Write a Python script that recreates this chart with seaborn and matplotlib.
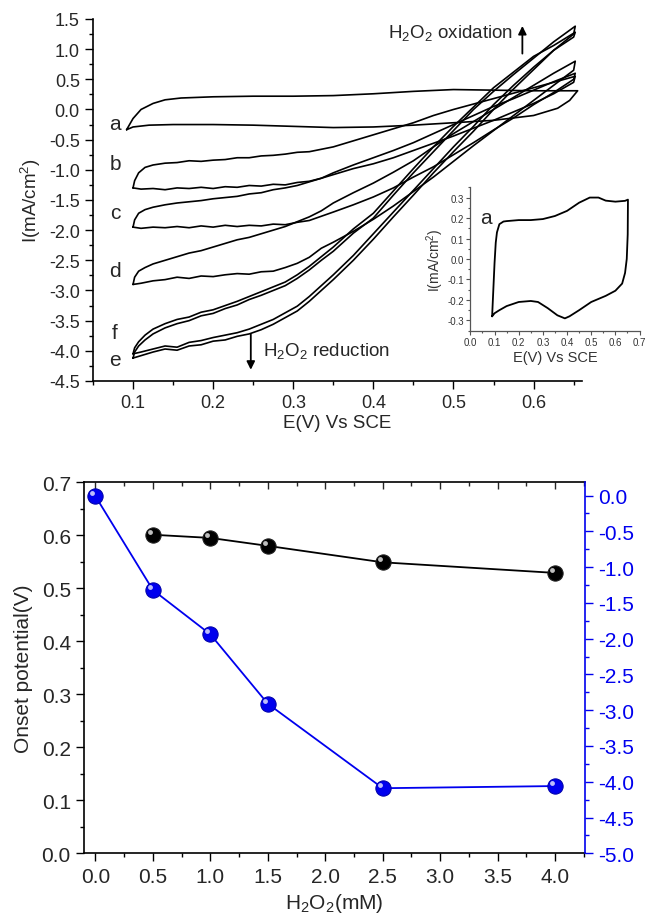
import matplotlib
matplotlib.use('Agg')
import matplotlib.pyplot as plt
import seaborn as sns
from matplotlib.ticker import MultipleLocator, AutoMinorLocator
from matplotlib.transforms import offset_copy

# ---- data: cyclic voltammograms (E in V vs SCE, I in mA/cm2) ----
E_fwd = [0.100, 0.110, 0.125, 0.140, 0.155, 0.170, 0.185, 0.200, 0.215, 0.230,
         0.245, 0.260, 0.275, 0.290, 0.305, 0.320, 0.335, 0.350, 0.375, 0.400,
         0.425, 0.450, 0.475, 0.500, 0.525, 0.550, 0.575, 0.600, 0.625, 0.650]
E_back = [0.652, 0.625, 0.600, 0.575, 0.550, 0.525, 0.500, 0.475, 0.450, 0.425,
          0.400, 0.375, 0.350, 0.335, 0.320, 0.305, 0.290, 0.275, 0.260, 0.245,
          0.230, 0.215, 0.200, 0.185, 0.170, 0.155, 0.140, 0.125, 0.115, 0.107,
          0.102, 0.100]

b_fwd = [-1.30, -1.32, -1.31, -1.33, -1.30, -1.31, -1.29, -1.31, -1.28, -1.29,
         -1.26, -1.27, -1.24, -1.25, -1.21, -1.19, -1.14, -1.08, -0.98, -0.90,
         -0.80, -0.68, -0.56, -0.44, -0.31, -0.18, -0.04, 0.10, 0.26, 0.45]
b_back = [0.55, 0.45, 0.36, 0.27, 0.18, 0.09, 0.00, -0.10, -0.22, -0.32,
          -0.42, -0.52, -0.62, -0.66, -0.70, -0.71, -0.74, -0.76, -0.77, -0.80,
          -0.80, -0.83, -0.84, -0.86, -0.85, -0.88, -0.89, -0.92, -0.96, -1.05,
          -1.18, -1.30]
c_fwd = [-1.95, -1.97, -1.95, -1.96, -1.94, -1.96, -1.93, -1.95, -1.92, -1.94,
         -1.92, -1.93, -1.90, -1.91, -1.87, -1.84, -1.77, -1.70, -1.58, -1.45,
         -1.30, -1.12, -0.95, -0.75, -0.55, -0.34, -0.14, 0.08, 0.28, 0.50]
c_back = [0.60, 0.46, 0.32, 0.18, 0.05, -0.10, -0.25, -0.40, -0.55, -0.68,
          -0.80, -0.92, -1.05, -1.14, -1.20, -1.26, -1.30, -1.33, -1.38, -1.40,
          -1.44, -1.46, -1.48, -1.51, -1.53, -1.55, -1.58, -1.62, -1.66, -1.72,
          -1.83, -1.95]
d_fwd = [-2.90, -2.88, -2.84, -2.82, -2.78, -2.80, -2.76, -2.77, -2.74, -2.72,
         -2.73, -2.69, -2.68, -2.62, -2.55, -2.45, -2.30, -2.20, -2.02, -1.82,
         -1.60, -1.36, -1.12, -0.86, -0.60, -0.35, -0.10, 0.15, 0.40, 0.65]
d_back = [0.80, 0.60, 0.40, 0.20, 0.00, -0.20, -0.40, -0.62, -0.85, -1.04,
          -1.22, -1.38, -1.55, -1.68, -1.78, -1.86, -1.94, -2.00, -2.06, -2.12,
          -2.16, -2.22, -2.28, -2.34, -2.38, -2.44, -2.50, -2.56, -2.62, -2.68,
          -2.78, -2.90]
e_fwd = [-4.12, -4.08, -4.02, -3.97, -3.99, -3.92, -3.90, -3.84, -3.82, -3.76,
         -3.72, -3.65, -3.56, -3.45, -3.34, -3.18, -3.00, -2.82, -2.50, -2.15,
         -1.78, -1.42, -1.05, -0.70, -0.36, 0.00, 0.34, 0.66, 0.98, 1.25]
e_back = [1.38, 1.12, 0.85, 0.58, 0.30, 0.00, -0.35, -0.70, -1.05, -1.42,
          -1.80, -2.05, -2.35, -2.50, -2.66, -2.80, -2.92, -3.00, -3.08, -3.15,
          -3.24, -3.30, -3.38, -3.42, -3.50, -3.55, -3.62, -3.72, -3.82, -3.92,
          -4.02, -4.12]
f_fwd = [-4.05, -4.02, -3.97, -3.92, -3.94, -3.86, -3.83, -3.78, -3.74, -3.70,
         -3.64, -3.56, -3.48, -3.37, -3.26, -3.10, -2.92, -2.74, -2.42, -2.06,
         -1.70, -1.34, -0.98, -0.62, -0.28, 0.08, 0.40, 0.70, 0.98, 1.20]
f_back = [1.28, 1.06, 0.88, 0.62, 0.36, 0.04, -0.28, -0.62, -0.98, -1.35,
          -1.72, -1.98, -2.28, -2.44, -2.60, -2.74, -2.86, -2.94, -3.02, -3.10,
          -3.18, -3.25, -3.32, -3.36, -3.44, -3.48, -3.55, -3.64, -3.74, -3.85,
          -3.95, -4.05]

a_E = [0.092, 0.100, 0.110, 0.125, 0.140, 0.160, 0.200, 0.250, 0.300, 0.350,
       0.400, 0.450, 0.500, 0.550, 0.600, 0.655, 0.645, 0.630, 0.600, 0.550,
       0.500, 0.450, 0.400, 0.350, 0.300, 0.250, 0.200, 0.150, 0.120, 0.100, 0.092]
a_I = [-0.335, -0.15, 0.00, 0.10, 0.16, 0.19, 0.21, 0.22, 0.22, 0.23,
       0.26, 0.30, 0.33, 0.32, 0.31, 0.31, 0.15, 0.02, -0.10, -0.18,
       -0.22, -0.26, -0.29, -0.30, -0.28, -0.26, -0.25, -0.25, -0.26, -0.29, -0.335]

# inset: curve a alone
inset_E = [0.090, 0.095, 0.100, 0.105, 0.110, 0.120, 0.137, 0.150, 0.200, 0.250,
           0.300, 0.350, 0.400, 0.450, 0.494, 0.530, 0.560, 0.600, 0.640, 0.652,
           0.651, 0.647, 0.640, 0.628, 0.600, 0.560, 0.500, 0.450, 0.410, 0.391,
           0.360, 0.320, 0.280, 0.250, 0.200, 0.150, 0.120, 0.100, 0.090]
inset_I = [-0.28, -0.15, -0.02, 0.08, 0.13, 0.17, 0.183, 0.185, 0.19, 0.19,
           0.195, 0.21, 0.235, 0.275, 0.30, 0.30, 0.285, 0.28, 0.284, 0.29,
           0.12, 0.0, -0.068, -0.12, -0.155, -0.18, -0.21, -0.25, -0.28, -0.29,
           -0.275, -0.24, -0.21, -0.205, -0.21, -0.23, -0.25, -0.265, -0.28]

curve_names = ['b', 'c', 'd', 'e', 'f']
curve_fwd = [b_fwd, c_fwd, d_fwd, e_fwd, f_fwd]
curve_back = [b_back, c_back, d_back, e_back, f_back]
label_pos = {'a': -0.24, 'b': -0.90, 'c': -1.70, 'd': -2.67, 'f': -3.69, 'e': -4.14}

# ---- data: bottom panel ----
conc_onset = [0.5, 1.0, 1.5, 2.5, 4.0]
onset_V = [0.601, 0.595, 0.580, 0.549, 0.529]
conc_curr = [0.0, 0.5, 1.0, 1.5, 2.5, 4.0]
red_current = [-0.01, -1.32, -1.94, -2.91, -4.09, -4.06]

sns.set_style("ticks")
plt.rcParams['font.family'] = ['Liberation Sans', 'DejaVu Sans']
plt.rcParams['axes.unicode_minus'] = False
plt.rcParams['mathtext.default'] = 'regular'

fig = plt.figure(figsize=(6.47, 9.2), dpi=100)

# ---------- top: CV curves ----------
ax = fig.add_axes([0.1437, 0.5848, 0.7553, 0.3935])
sns.lineplot(x=a_E, y=a_I, sort=False, estimator=None, color='black', lw=1.2, ax=ax)
for name, fwd, back in zip(curve_names, curve_fwd, curve_back):
    sns.lineplot(x=E_fwd + E_back, y=fwd + back, sort=False, estimator=None,
                 color='black', lw=1.2, ax=ax)
for name, yv in label_pos.items():
    ax.text(0.0775, yv, name, fontsize=15, ha='center', va='center')

ax.set_xlim(0.05, 0.66)
ax.set_ylim(-4.5, 1.5)
ax.xaxis.set_major_locator(MultipleLocator(0.1))
ax.xaxis.set_minor_locator(AutoMinorLocator(2))
ax.yaxis.set_major_locator(MultipleLocator(0.5))
ax.yaxis.set_minor_locator(AutoMinorLocator(2))
ax.tick_params(which='both', direction='out', width=1.0, labelsize=13, color='black')
ax.tick_params(which='major', length=6)
ax.tick_params(which='minor', length=3)
sns.despine(ax=ax)
for s in ['left', 'bottom']:
    ax.spines[s].set_linewidth(1.2)
    ax.spines[s].set_color('black')
ax.set_xlabel('E(V) Vs SCE', fontsize=13.5, labelpad=2)
ax.set_ylabel('I(mA/cm$^2$)', fontsize=13.5, labelpad=4)

ax.annotate('', xy=(0.586, 1.43), xytext=(0.586, 0.88),
            arrowprops=dict(arrowstyle='-|>', color='black', lw=1.3, mutation_scale=12))
ax.text(0.575, 1.28, 'H$_2$O$_2$ oxidation', fontsize=13.5, ha='right', va='center')
ax.annotate('', xy=(0.247, -4.36), xytext=(0.247, -3.68),
            arrowprops=dict(arrowstyle='-|>', color='black', lw=1.3, mutation_scale=12))
ax.text(0.262, -3.99, 'H$_2$O$_2$ reduction', fontsize=13.5, ha='left', va='center')

# ---------- inset ----------
axi = fig.add_axes([0.727, 0.6395, 0.2615, 0.1558])
sns.lineplot(x=inset_E, y=inset_I, sort=False, estimator=None, color='black', lw=1.3, ax=axi)
axi.set_xlim(0.0, 0.7)
axi.set_ylim(-0.35, 0.35)
axi.xaxis.set_major_locator(MultipleLocator(0.1))
axi.xaxis.set_minor_locator(AutoMinorLocator(2))
axi.yaxis.set_major_locator(MultipleLocator(0.1))
axi.yaxis.set_minor_locator(AutoMinorLocator(2))
axi.tick_params(which='both', direction='out', width=0.8, labelsize=7,
                labelcolor='#333333', color='#555555', pad=1.5)
axi.tick_params(which='major', length=3)
axi.tick_params(which='minor', length=1.5)
sns.despine(ax=axi)
for s in ['left', 'bottom']:
    axi.spines[s].set_linewidth(0.9)
    axi.spines[s].set_color('#555555')
axi.patch.set_alpha(0)
axi.set_xlabel('E(V) Vs SCE', fontsize=10.5, color='#333333', labelpad=2)
axi.set_ylabel('I(mA/cm$^2$)', fontsize=10, color='#333333', labelpad=1)
axi.text(0.065, 0.205, 'a', fontsize=15, ha='center', va='center')

# ---------- bottom: onset potential and current ----------
ax2 = fig.add_axes([0.1298, 0.0714, 0.7744, 0.4033])
ax2r = ax2.twinx()

sns.lineplot(x=conc_onset, y=onset_V, color='black', lw=1.3, marker='o',
             markersize=11, markeredgecolor='#222222', ax=ax2)
sns.lineplot(x=conc_curr, y=red_current, color='#0000ee', lw=1.3, marker='o',
             markersize=11, markeredgecolor='#0000aa', ax=ax2r)
hl2 = offset_copy(ax2.transData, fig=fig, x=-2.2, y=2.2, units='points')
ax2.plot(conc_onset, onset_V, 'o', ms=3.5, color='white', alpha=0.75,
         mec='none', transform=hl2, zorder=5)
hl2r = offset_copy(ax2r.transData, fig=fig, x=-2.2, y=2.2, units='points')
ax2r.plot(conc_curr, red_current, 'o', ms=3.5, color='white', alpha=0.75,
          mec='none', transform=hl2r, zorder=5)

ax2.set_xlim(-0.1, 4.26)
ax2.set_ylim(0.0, 0.7)
ax2r.set_ylim(-5.0, 0.186)
ax2.xaxis.set_major_locator(MultipleLocator(0.5))
ax2.xaxis.set_minor_locator(AutoMinorLocator(2))
ax2.yaxis.set_major_locator(MultipleLocator(0.1))
ax2.yaxis.set_minor_locator(AutoMinorLocator(2))
ax2r.yaxis.set_major_locator(MultipleLocator(0.5))
ax2r.yaxis.set_minor_locator(AutoMinorLocator(2))

ax2.tick_params(which='both', direction='out', width=1.0, labelsize=15, color='black')
ax2.tick_params(which='major', length=6)
ax2.tick_params(which='minor', length=3)
ax2r.tick_params(which='both', direction='out', width=1.0, labelsize=15,
                 color='#0000ee', labelcolor='#0000ee')
ax2r.tick_params(which='major', length=6)
ax2r.tick_params(which='minor', length=3)

top = ax2.secondary_xaxis('top')
top.xaxis.set_major_locator(MultipleLocator(0.5))
top.xaxis.set_minor_locator(AutoMinorLocator(2))
top.tick_params(which='both', direction='in', labeltop=False, width=1.0)
top.tick_params(which='major', length=5)
top.tick_params(which='minor', length=3)
top.spines['top'].set_visible(False)

for s in ['left', 'bottom', 'top']:
    ax2.spines[s].set_linewidth(1.2)
    ax2.spines[s].set_color('black')
ax2.spines['right'].set_visible(False)
for s in ['left', 'bottom', 'top']:
    ax2r.spines[s].set_visible(False)
ax2r.spines['right'].set_color('#0000ee')
ax2r.spines['right'].set_linewidth(1.2)
ax2r.spines['right'].set_visible(True)

ax2.set_xlabel('H$_2$O$_2$(mM)', fontsize=15, labelpad=4)
ax2.set_ylabel('Onset potential(V)', fontsize=15, labelpad=6)

fig.savefig('out.png', dpi=100, facecolor='white')
